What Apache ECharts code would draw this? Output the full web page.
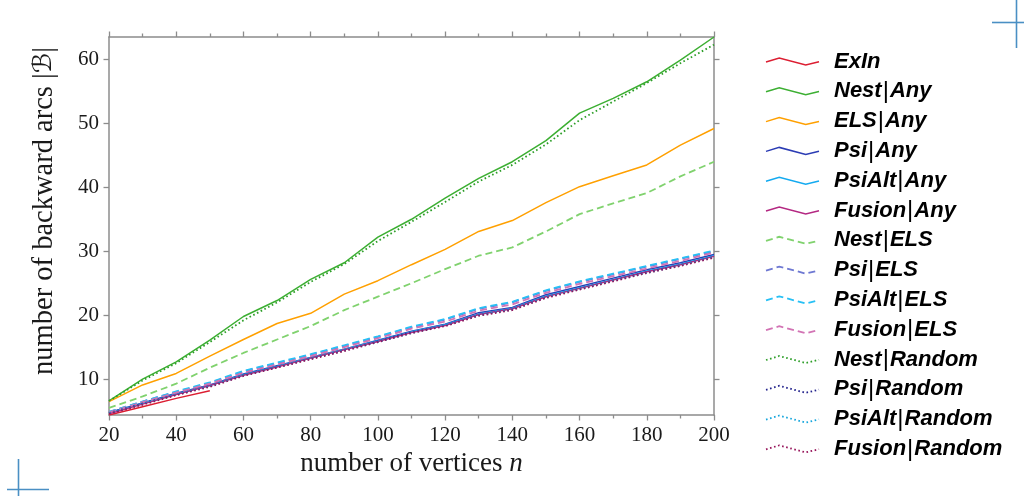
<!DOCTYPE html>
<html>
<head>
<meta charset="utf-8">
<script src="https://cdn.jsdelivr.net/npm/echarts@6/dist/echarts.min.js"></script>
<style>
  html, body { margin: 0; padding: 0; background: #ffffff; }
  #chart { width: 1024px; height: 496px; }
</style>
</head>
<body>
<div id="chart"></div>
<script>
// Graph sizes (number of vertices n)
const vertices = [20, 30, 40, 50, 60, 70, 80, 90, 100, 110, 120, 130, 140, 150, 160, 170, 180, 190, 200];
const xTicks = [20, 40, 60, 80, 100, 120, 140, 160, 180, 200];
const yTicks = [10, 20, 30, 40, 50, 60];

// Average number of backward arcs per method
const exIn         = [4.4, 5.7, 7.0, 8.2];
const nestAny      = [6.6, 10.0, 12.7, 16.1, 19.8, 22.3, 25.6, 28.2, 32.2, 35.0, 38.3, 41.4, 44.0, 47.3, 51.6, 53.9, 56.5, 59.9, 63.5];
const elsAny       = [6.5, 9.1, 10.9, 13.6, 16.2, 18.7, 20.3, 23.3, 25.4, 27.9, 30.3, 33.1, 34.8, 37.6, 40.1, 41.8, 43.5, 46.6, 49.2];
const psiAny       = [4.8, 6.3, 7.8, 9.1, 10.8, 12.1, 13.4, 14.7, 16.1, 17.5, 18.6, 20.4, 21.2, 23.2, 24.5, 25.8, 27.1, 28.2, 29.5];
const psiAltAny    = [4.7, 6.2, 7.7, 9.0, 10.7, 12.0, 13.4, 14.7, 16.0, 17.4, 18.5, 20.2, 21.1, 23.0, 24.3, 25.6, 26.9, 28.0, 29.3];
const fusionAny    = [4.6, 6.1, 7.6, 9.0, 10.6, 11.9, 13.3, 14.6, 15.9, 17.3, 18.4, 20.1, 21.0, 22.9, 24.2, 25.5, 26.8, 27.9, 29.2];
const nestELS      = [5.5, 7.3, 9.3, 11.8, 14.1, 16.2, 18.3, 20.8, 22.9, 25.0, 27.2, 29.3, 30.6, 33.1, 35.8, 37.5, 39.1, 41.7, 44.0];
const psiELS       = [4.9, 6.5, 8.0, 9.4, 11.2, 12.5, 13.8, 15.2, 16.6, 18.1, 19.3, 21.0, 22.0, 23.8, 25.2, 26.4, 27.6, 28.8, 30.0];
const psiAltELS    = [4.9, 6.5, 8.1, 9.5, 11.3, 12.6, 13.9, 15.3, 16.7, 18.2, 19.4, 21.1, 22.1, 23.9, 25.3, 26.5, 27.7, 28.9, 30.1];
const fusionELS    = [4.8, 6.4, 7.9, 9.3, 11.0, 12.3, 13.6, 15.0, 16.4, 17.9, 19.0, 20.7, 21.7, 23.5, 24.9, 26.1, 27.3, 28.5, 29.8];
const nestRandom   = [6.6, 9.8, 12.5, 15.8, 19.2, 22.0, 25.2, 28.0, 31.6, 34.6, 37.7, 40.9, 43.5, 46.7, 50.5, 53.4, 56.3, 59.4, 62.3];
const psiRandom    = [4.7, 6.2, 7.6, 8.9, 10.6, 11.9, 13.2, 14.5, 15.9, 17.3, 18.4, 20.0, 20.9, 22.8, 24.1, 25.4, 26.7, 27.8, 29.1];
const psiAltRandom = [4.7, 6.1, 7.6, 8.9, 10.6, 11.9, 13.2, 14.5, 15.8, 17.2, 18.4, 20.0, 20.9, 22.8, 24.1, 25.4, 26.6, 27.8, 29.1];
const fusionRandom = [4.6, 6.0, 7.5, 8.8, 10.5, 11.8, 13.1, 14.4, 15.8, 17.2, 18.3, 19.9, 20.8, 22.7, 24.0, 25.3, 26.6, 27.7, 29.0];

const Y_MIN = 4.4, Y_MAX = 63.5;

const SOLID = 'solid', DASHED = [7, 4], DOTTED = [1.6, 2.6];

// [name parts, values, colour, dash, width]
const methods = [
  [['ExIn'],             exIn,         '#dc1e32', SOLID,  1.5],
  [['Nest', 'Any'],      nestAny,      '#3caf32', SOLID,  1.5],
  [['ELS', 'Any'],       elsAny,       '#ffa000', SOLID,  1.5],
  [['Psi', 'Any'],       psiAny,       '#2b3cb4', SOLID,  1.5],
  [['PsiAlt', 'Any'],    psiAltAny,    '#14aaf0', SOLID,  1.5],
  [['Fusion', 'Any'],    fusionAny,    '#b42882', SOLID,  1.5],
  [['Nest', 'ELS'],      nestELS,      '#80d26e', DASHED, 1.8],
  [['Psi', 'ELS'],       psiELS,       '#6e78d2', DASHED, 1.8],
  [['PsiAlt', 'ELS'],    psiAltELS,    '#28c0f5', DASHED, 1.8],
  [['Fusion', 'ELS'],    fusionELS,    '#d273b4', DASHED, 1.8],
  [['Nest', 'Random'],   nestRandom,   '#2d9e28', DOTTED, 1.8],
  [['Psi', 'Random'],    psiRandom,    '#23238c', DOTTED, 1.8],
  [['PsiAlt', 'Random'], psiAltRandom, '#14a5dc', DOTTED, 1.8],
  [['Fusion', 'Random'], fusionRandom, '#96145a', DOTTED, 1.8]
];

const AXIS_GREY = '#8c8c8c';
const serif = '"Liberation Serif", "DejaVu Serif", serif';

const series = methods.map(([parts, values, color, dash, width]) => ({
  name: parts.join('|'),
  type: 'line',
  xAxisIndex: 0,
  yAxisIndex: 0,
  symbol: 'none',
  silent: true,
  animation: false,
  data: values.map((v, i) => [vertices[i], v]),
  lineStyle: { color, width, type: dash }
}));

function xAxisDef(pos, showLabels) {
  return {
    type: 'value', position: pos, min: 20, max: 200, interval: 20,
    axisLine: { show: true, onZero: false, lineStyle: { color: AXIS_GREY, width: 1.5 } },
    axisTick: { show: true, inside: false, length: 5.5, lineStyle: { color: AXIS_GREY, width: 1.3 } },
    minorTick: { show: true, splitNumber: 2, length: 3.5, lineStyle: { color: AXIS_GREY, width: 1.3 } },
    splitLine: { show: false },
    axisLabel: { show: showLabels, margin: 10, color: '#1a1a1a', fontFamily: serif, fontSize: 21,
                 customValues: xTicks },
    name: showLabels ? '{r|number of vertices }{i|n}' : '',
    nameLocation: 'middle', nameGap: 35,
    nameTextStyle: { rich: {
      r: { fontFamily: serif, fontSize: 27, color: '#1a1a1a' },
      i: { fontFamily: serif, fontSize: 27, fontStyle: 'italic', color: '#1a1a1a' }
    } }
  };
}

function yAxisDef(pos, showLabels) {
  return {
    type: 'value', position: pos, min: Y_MIN, max: Y_MAX,
    axisLine: { show: true, onZero: false, lineStyle: { color: AXIS_GREY, width: 1.5 } },
    axisTick: { show: true, inside: false, length: 5.5, customValues: yTicks, lineStyle: { color: AXIS_GREY, width: 1.3 } },
    splitLine: { show: false },
    axisLabel: { show: showLabels, margin: 10, color: '#1a1a1a', fontFamily: serif, fontSize: 21,
                 customValues: yTicks },
    name: showLabels ? '{r|number of backward arcs |}{c|ℬ}{r||}' : '',
    nameLocation: 'middle', nameGap: 50,
    nameTextStyle: {
      padding: [0, 0, 0, 30],
      rich: {
        r: { fontFamily: serif, fontSize: 28.5, color: '#1a1a1a' },
        c: { fontFamily: '"DejaVu Sans", serif', fontSize: 26, fontStyle: 'italic', color: '#1a1a1a' }
      }
    }
  };
}

// Legend drawn as wavy sample strokes followed by method names
const LEG_X = 766, LEG_W = 53, LEG_TEXT_X = 834, LEG_Y0 = 61.5, LEG_DY = 29.8;
const legendSans = '"Liberation Sans", Arial, sans-serif';
const legendGraphics = [];
methods.forEach(([parts, , color, dash, width], i) => {
  const cy = LEG_Y0 + i * LEG_DY;
  legendGraphics.push({
    type: 'polyline', silent: true,
    shape: { points: [[LEG_X, cy + 0.5], [LEG_X + LEG_W * 0.25, cy - 3.5], [LEG_X + LEG_W * 0.75, cy + 3.5], [LEG_X + LEG_W, cy + 0.3]] },
    style: { stroke: color, lineWidth: width, lineDash: dash === SOLID ? null : dash, fill: null }
  });
  const txt = parts.length === 1
    ? '{t|' + parts[0] + '}'
    : '{t|' + parts[0] + '}{bar||}{t|' + parts[1] + '}';
  legendGraphics.push({
    type: 'text', silent: true, x: LEG_TEXT_X, y: cy,
    style: {
      text: txt, textVerticalAlign: 'middle', textAlign: 'left',
      rich: {
        t: { fontFamily: legendSans, fontSize: 22, fontWeight: 'bold', fontStyle: 'italic', fill: '#000' },
        bar: { fontFamily: legendSans, fontSize: 24, fontWeight: 'normal', fill: '#000', padding: [0, 1, 0, 1] }
      }
    }
  });
});

// Page crop marks
const MARK = '#4a8fc4';
const cropMarks = [
  { type: 'line', silent: true, shape: { x1: 1016.5, y1: 0, x2: 1016.5, y2: 48 }, style: { stroke: MARK, lineWidth: 1.6 } },
  { type: 'line', silent: true, shape: { x1: 992, y1: 22.5, x2: 1024, y2: 22.5 }, style: { stroke: MARK, lineWidth: 1.6 } },
  { type: 'line', silent: true, shape: { x1: 18.5, y1: 459, x2: 18.5, y2: 496 }, style: { stroke: MARK, lineWidth: 1.6 } },
  { type: 'line', silent: true, shape: { x1: 7, y1: 489.5, x2: 49, y2: 489.5 }, style: { stroke: MARK, lineWidth: 1.6 } }
];

const chart = echarts.init(document.getElementById('chart'), null, { renderer: 'canvas' });
chart.setOption({
  animation: false,
  backgroundColor: '#ffffff',
  grid: { left: 109, right: 310, top: 37, bottom: 81, containLabel: false },
  xAxis: [xAxisDef('bottom', true), xAxisDef('top', false)],
  yAxis: [yAxisDef('left', true), yAxisDef('right', false)],
  series,
  graphic: legendGraphics.concat(cropMarks)
});
</script>
</body>
</html>
